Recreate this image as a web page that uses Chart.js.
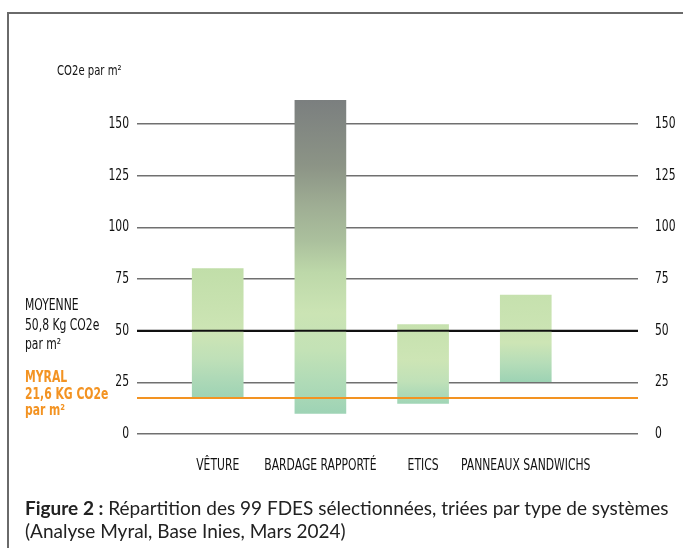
<!DOCTYPE html>
<html><head><meta charset="utf-8">
<script src="https://cdn.jsdelivr.net/npm/chart.js@4/dist/chart.umd.min.js"></script>
<style>
html,body{margin:0;padding:0;background:#fff;}
#wrap{position:relative;width:683px;height:548px;overflow:hidden;background:#fff;}
#frame{position:absolute;left:7px;top:12px;width:700px;height:600px;border-left:2px solid #6a6a6a;border-top:2px solid #6a6a6a;}
#c{position:absolute;left:0;top:0;}
.t{position:absolute;font-family:"DejaVu Sans Condensed","DejaVu Sans",sans-serif;white-space:nowrap;color:#111;transform:scaleX(0.8);transform-origin:0 0;}
#ytitle{left:57px;top:62px;font-size:14px;}
#moy{left:25px;top:296px;font-size:15px;line-height:19.5px;}
#myr{left:25px;top:369px;font-size:15px;line-height:16.5px;font-weight:bold;color:#f39322;}
#cap{position:absolute;left:25px;top:496px;font-family:Lato,"Open Sans",sans-serif;font-size:19px;line-height:23px;color:#222;white-space:nowrap;}
</style></head>
<body>
<div id="wrap">
<div id="frame"></div>
<canvas id="c" width="683" height="548"></canvas>
<div class="t" id="ytitle">CO2e par m²</div>
<div class="t" id="moy">MOYENNE<br>50,8 Kg CO2e<br>par m²</div>
<div class="t" id="myr">MYRAL<br>21,6 KG CO2e<br>par m²</div>
<div id="cap"><b>Figure 2 :</b> Répartition des 99 FDES sélectionnées, triées par type de systèmes<br>(Analyse Myral, Base Inies, Mars 2024)</div>
</div>
<script>
// ---- data ----
const categories = ['VÊTURE', 'BARDAGE RAPPORTÉ', 'ETICS', 'PANNEAUX SANDWICHS'];
const barLow  = [17.5, 10, 14.8, 25.3];
const barHigh = [80, 161.5, 53, 67.2];
const yTicks = [0, 25, 50, 75, 100, 125, 150];
const meanValue = 50;
const myralValue = 17.4;

// ---- style ----
const FONT = '"DejaVu Sans Condensed","DejaVu Sans",sans-serif';
const barGradients = [
  [[0,'#c1dea9'],[0.3,'#c8e2b0'],[0.5,'#cde5b5'],[0.7,'#bfe0b8'],[0.85,'#aed9b7'],[1,'#9ed3b4']],
  [[0,'#7b7f7f'],[0.21,'#8c9486'],[0.34,'#9fae94'],[0.45,'#abc09d'],[0.55,'#bdd8a9'],[0.68,'#cbe4b4'],[0.8,'#c3e2b6'],[0.9,'#b0dbb7'],[1,'#9ed3b5']],
  [[0,'#c6e1ae'],[0.45,'#cde5b5'],[0.72,'#c0e1b8'],[0.88,'#aedab7'],[1,'#a0d5b6']],
  [[0,'#c6e1ae'],[0.55,'#cde5b5'],[0.78,'#b6ddb8'],[1,'#9dd3b4']]
];
const X_MIN = -0.786, X_MAX = 4.093;
const Y_MAX = 165;

function barFill(ctx){
  const chart = ctx.chart;
  if (ctx.type !== 'data' || !chart.chartArea) return '#c6e1ae';
  const i = ctx.dataIndex;
  const ys = chart.scales.y;
  const top = ys.getPixelForValue(barHigh[i]);
  const bot = ys.getPixelForValue(barLow[i]);
  const g = chart.ctx.createLinearGradient(0, top, 0, bot);
  barGradients[i].forEach(s => g.addColorStop(s[0], s[1]));
  return g;
}

// condensed text rendering (horizontal squeeze around the anchor point)
const condensedText = {
  id: 'condensedText',
  beforeInit(chart) {
    const c = chart.ctx;
    const orig = c.fillText;
    c.fillText = function(text, x, y, maxW) {
      this.save();
      this.translate(x, y);
      this.scale(0.8, 1);
      if (maxW !== undefined) orig.call(this, text, 0, 0, maxW / 0.8);
      else orig.call(this, text, 0, 0);
      this.restore();
    };
  }
};

const setTicks = scale => { scale.ticks = yTicks.map(v => ({value: v})); };

new Chart(document.getElementById('c'), {
  type: 'bar',
  plugins: [condensedText],
  data: {
    datasets: [
      {
        type: 'line', order: 0,
        data: [{x: X_MIN, y: meanValue}, {x: X_MAX, y: meanValue}],
        borderColor: '#111', borderWidth: 2, pointRadius: 0
      },
      {
        type: 'line', order: 0,
        data: [{x: X_MIN, y: myralValue}, {x: X_MAX, y: myralValue}],
        borderColor: '#f39322', borderWidth: 2, pointRadius: 0
      },
      {
        type: 'bar', order: 1,
        data: categories.map((c, i) => ({x: i, y: [barLow[i], barHigh[i]]})),
        backgroundColor: barFill,
        borderWidth: 0,
        barThickness: 51
      }
    ]
  },
  options: {
    responsive: false,
    animation: false,
    events: [],
    layout: {padding: {top: 93, left: 0, right: 0, bottom: 0}},
    plugins: {legend: {display: false}, tooltip: {enabled: false}},
    scales: {
      x: {
        type: 'linear', min: X_MIN, max: X_MAX, offset: false,
        afterBuildTicks: s => { s.ticks = categories.map((c, i) => ({value: i})); },
        afterFit: s => { s.height = 114; },
        grid: {display: false, drawTicks: false},
        border: {display: false},
        ticks: {
          callback: v => categories[v] ?? '',
          color: '#111', padding: 23, maxRotation: 0, autoSkip: false,
          font: {family: FONT, size: 15}
        }
      },
      y: {
        position: 'left', min: 0, max: Y_MAX, z: 1,
        afterBuildTicks: setTicks,
        afterFit: s => { s.width = 137; },
        grid: {
          drawTicks: false,
          color: c => c.tick && c.tick.value === meanValue ? '#111' : '#707070',
          lineWidth: c => c.tick && c.tick.value === meanValue ? 2 : 1.5
        },
        border: {display: false},
        ticks: {color: '#111', padding: 8, font: {family: FONT, size: 15}}
      },
      y2: {
        position: 'right', min: 0, max: Y_MAX,
        afterBuildTicks: setTicks,
        afterFit: s => { s.width = 45; },
        grid: {display: false, drawTicks: false},
        border: {display: false},
        ticks: {color: '#111', padding: 17, font: {family: FONT, size: 15}}
      }
    }
  }
});
</script>
</body></html>
